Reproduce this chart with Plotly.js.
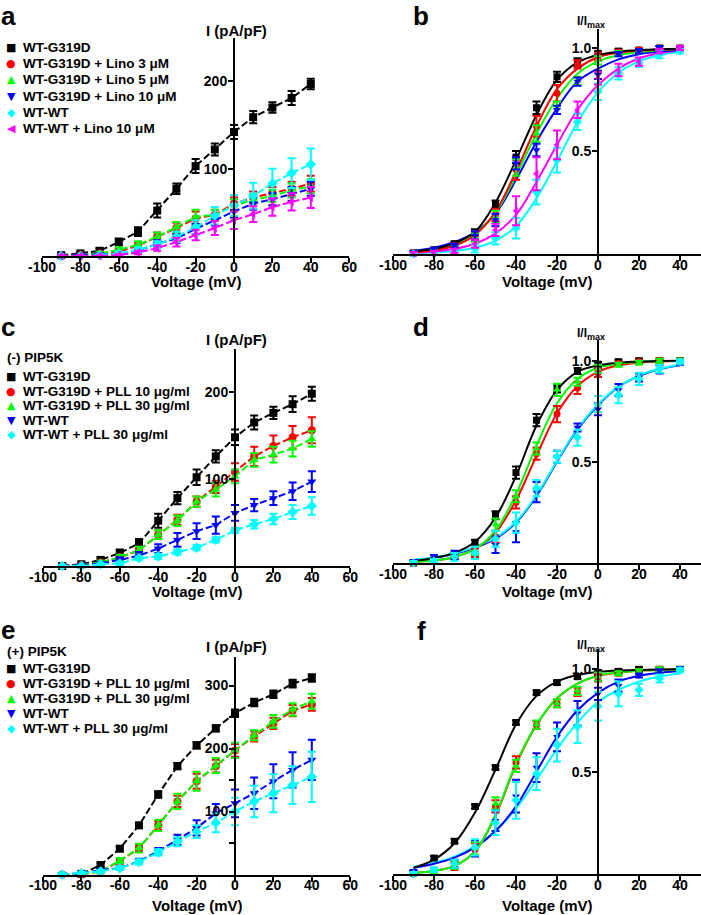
<!DOCTYPE html>
<html>
<head>
<meta charset="utf-8">
<script src="https://cdn.plot.ly/plotly-3.0.1.min.js"></script>
<style>html,body{margin:0;padding:0;background:#fff;}#chart{width:701px;height:915px;}</style>
</head>
<body>
<div id="chart"></div>
<script>
// ---------------- DATA ----------------
const V = [-90,-80,-70,-60,-50,-40,-30,-20,-10,0,10,20,30,40];
const fitV = [-90,-80,-70,-60,-50,-40,-30,-20,-10,0,10,20,30,40];
const xTicksIV = [-100,-80,-60,-40,-20,0,20,40,60];
const xTickTextIV = ['-100','-80','-60','-40','-20','0','20','40','60'];
const xTicksG = [-100,-80,-60,-40,-20,0,20,40];
const xTickTextG = ['-100','-80','-60','-40','-20','0','20','40'];
const yTicksAC = [100,200];
const yTickTextAC = ['100','200'];
const yTicksE = [100,200,300];
const yTickTextE = ['100','200','300'];
const yMinorE = [50,150,250];
const yTicksG = [0.5,1.0];
const yTickTextG = ['0.5','1.0'];

const legendA = ['WT-G319D','WT-G319D + Lino 3 \u03bcM','WT-G319D + Lino 5 \u03bcM','WT-G319D + Lino 10 \u03bcM','WT-WT','WT-WT + Lino 10 \u03bcM'];
const legendC = ['WT-G319D','WT-G319D + PLL 10 \u03bcg/ml','WT-G319D + PLL 30 \u03bcg/ml','WT-WT','WT-WT + PLL 30 \u03bcg/ml'];
const legendE = ['WT-G319D','WT-G319D + PLL 10 \u03bcg/ml','WT-G319D + PLL 30 \u03bcg/ml','WT-WT','WT-WT + PLL 30 \u03bcg/ml'];
const headerC = '(-) PIP5K';
const headerE = '(+) PIP5K';

// Panel a (I, pA/pF)
const aBlack = [1,3,6,16,28,52,77,103,122,142,159,170,181,197];
const aBlackErr = [2,2,3,4,5,8,6,8,7,8,7,6,8,6];
const aRed = [0,1,3,5,12,22,32,43,47,60,67,72,77,83];
const aRedErr = [1,1,2,3,4,5,6,8,6,7,7,7,8,9];
const aGreen = [0,1,3,7,13,22,33,45,47,58,64,69,75,80];
const aGreenErr = [1,1,2,3,4,5,6,8,6,7,7,7,8,8];
const aBlue = [0,1,2,2,6,14,20,31,41,51,60,65,71,77];
const aBlueErr = [1,1,1,2,3,4,5,6,6,7,7,7,8,8];
const aCyan = [0,0,1,3,7,13,22,33,46,58,69,83,95,105];
const aCyanErr = [1,1,1,2,3,4,6,8,10,12,15,17,17,18];
const aMagenta = [0,0,0,1,4,9,16,24,32,41,48,56,62,67];
const aMagentaErr = [1,1,1,1,2,3,5,6,8,10,9,10,10,12];

// Panel b (I/Imax)
const bBlack = [0.005,0.02,0.05,0.105,0.24,0.47,0.71,0.86,0.93,0.974,0.985,0.99,1.0,1.0];
const bBlackErr = [0.01,0.01,0.01,0.015,0.02,0.03,0.03,0.025,0.02,0.01,0.01,0.01,0.01,0.01];
const bRed = [0.005,0.015,0.04,0.09,0.19,0.41,0.62,0.78,0.92,0.958,0.98,0.99,1.0,1.0];
const bRedErr = [0.01,0.01,0.01,0.02,0.03,0.05,0.05,0.04,0.02,0.02,0.01,0.01,0.01,0.01];
const bGreen = [0.005,0.015,0.035,0.08,0.18,0.42,0.585,0.71,0.84,0.94,0.975,0.985,1.0,1.0];
const bGreenErr = [0.01,0.01,0.01,0.02,0.03,0.04,0.04,0.03,0.02,0.02,0.01,0.01,0.01,0.01];
const bBlue = [0.005,0.02,0.04,0.09,0.165,0.44,0.505,0.70,0.837,0.87,0.97,0.985,1.0,1.0];
const bBlueErr = [0.01,0.01,0.01,0.02,0.03,0.03,0.03,0.02,0.02,0.02,0.01,0.01,0.01,0.01];
const bCyan = [0.0,0.0,0.01,0.027,0.076,0.125,0.30,0.456,0.642,0.788,0.877,0.929,0.97,0.985];
const bCyanErr = [0.01,0.01,0.01,0.02,0.03,0.05,0.06,0.06,0.04,0.04,0.03,0.02,0.02,0.01];
const bMagenta = [0.0,0.005,0.015,0.05,0.117,0.21,0.39,0.53,0.70,0.853,0.893,0.934,0.985,1.0];
const bMagentaErr = [0.01,0.01,0.01,0.02,0.03,0.07,0.08,0.07,0.04,0.03,0.03,0.02,0.01,0.01];
const bBlackFit = [0.012,0.025,0.052,0.108,0.25,0.456,0.675,0.845,0.93,0.966,0.982,0.99,0.994,0.996];
const bRedFit = [0.008,0.018,0.04,0.092,0.205,0.40,0.62,0.80,0.90,0.955,0.977,0.987,0.992,0.995];
const bGreenFit = [0.01,0.022,0.048,0.098,0.2,0.38,0.585,0.755,0.875,0.935,0.965,0.98,0.99,0.995];
const bBlueFit = [0.015,0.03,0.058,0.105,0.195,0.36,0.545,0.707,0.837,0.90,0.945,0.97,0.982,0.99];
const bCyanFit = [0.004,0.008,0.015,0.03,0.065,0.135,0.27,0.45,0.64,0.785,0.88,0.935,0.965,0.982];
const bMagentaFit = [0.006,0.012,0.025,0.05,0.1,0.19,0.35,0.53,0.70,0.82,0.90,0.95,0.975,0.988];

// Panel c (I, pA/pF), (-) PIP5K
const cBlack = [0,2,7,15,26,52,78,102,126,148,165,176,186,198];
const cBlackErr = [2,2,3,4,5,8,7,9,7,9,8,7,9,8];
const cRed = [0,1,4,10,18,36,53,74,91,108,126,138,148,156];
const cRedErr = [1,1,2,3,4,5,6,6,7,10,11,12,13,15];
const cGreen = [0,1,4,10,18,36,52,74,88,103,122,128,135,146];
const cGreenErr = [1,1,2,3,4,5,6,6,8,8,8,9,9,9];
const cBlue = [0,1,3,7,12,20,30,40,47,61,70,78,86,97];
const cBlueErr = [1,1,2,3,4,5,8,9,10,9,7,8,10,12];
const cCyan = [0,0,2,3,9,11,16,21,30,41,48,54,62,69];
const cCyanErr = [1,1,1,2,2,3,3,3,3,3,5,6,8,10];

// Panel d (I/Imax), (-) PIP5K
const dBlack = [0.0,0.01,0.04,0.10,0.236,0.447,0.706,0.863,0.949,0.983,0.995,1.0,1.0,1.0];
const dBlackErr = [0.01,0.01,0.01,0.015,0.02,0.03,0.03,0.02,0.015,0.01,0.01,0.01,0.01,0.01];
const dRed = [0.0,0.01,0.03,0.05,0.13,0.30,0.54,0.736,0.865,0.94,0.985,0.995,1.0,1.0];
const dRedErr = [0.01,0.01,0.01,0.02,0.03,0.03,0.03,0.04,0.03,0.02,0.01,0.01,0.01,0.01];
const dGreen = [0.0,0.01,0.03,0.06,0.19,0.33,0.566,0.856,0.896,0.96,0.98,0.99,1.0,1.0];
const dGreenErr = [0.01,0.01,0.01,0.02,0.03,0.03,0.03,0.03,0.02,0.02,0.01,0.01,0.01,0.01];
const dBlue = [0.005,0.03,0.04,0.05,0.09,0.153,0.35,0.525,0.67,0.76,0.855,0.917,0.957,0.99];
const dBlueErr = [0.01,0.01,0.02,0.03,0.04,0.05,0.05,0.03,0.02,0.03,0.03,0.02,0.02,0.01];
const dCyan = [0.0,0.01,0.03,0.05,0.12,0.20,0.37,0.525,0.62,0.785,0.83,0.91,0.96,0.995];
const dCyanErr = [0.01,0.01,0.02,0.03,0.04,0.05,0.04,0.03,0.04,0.04,0.04,0.03,0.02,0.01];
const dBlackFit = [0.01,0.025,0.05,0.105,0.225,0.43,0.68,0.855,0.945,0.977,0.99,0.996,0.998,1.0];
const dRedFit = [0.005,0.012,0.03,0.07,0.15,0.31,0.53,0.74,0.875,0.945,0.977,0.99,0.996,0.998];
const dGreenFit = [0.005,0.012,0.03,0.07,0.16,0.34,0.58,0.79,0.91,0.965,0.985,0.994,0.998,0.999];
const dBlueFit = [0.015,0.025,0.045,0.075,0.12,0.2,0.33,0.5,0.66,0.78,0.87,0.925,0.958,0.977];
const dCyanFit = [0.016,0.027,0.048,0.08,0.125,0.205,0.335,0.505,0.665,0.785,0.872,0.927,0.96,0.98];

// Panel e (I, pA/pF), (+) PIP5K
const eBlack = [-6,1,15,41,78,127,172,205,232,256,273,286,303,312];
const eBlackErr = [3,2,3,4,4,5,5,5,5,6,6,6,6,6];
const eRed = [0,0,5,21,42,78,116,148,172,197,219,240,260,270];
const eRedErr = [2,2,3,4,5,7,9,12,10,10,8,9,9,10];
const eGreen = [0,0,5,22,42,78,116,148,173,197,221,243,262,275];
const eGreenErr = [2,2,3,4,7,9,12,15,12,12,8,10,10,12];
const eBlue = [0,2,7,10,21,37,55,74,97,113,129,148,166,182];
const eBlueErr = [2,2,2,3,4,5,8,12,15,22,25,27,28,32];
const eCyan = [0,2,5,10,20,35,52,68,82,100,116,129,142,155];
const eCyanErr = [2,2,2,3,4,5,7,10,15,22,25,30,30,40];

// Panel f (I/Imax), (+) PIP5K
const fBlack = [0.005,0.078,0.16,0.33,0.52,0.74,0.886,0.935,0.964,0.985,0.99,1.0,1.0,1.0];
const fBlackErr = [0.01,0.01,0.01,0.01,0.01,0.01,0.01,0.01,0.01,0.01,0.01,0.01,0.01,0.01];
const fRed = [0.0,0.01,0.04,0.12,0.33,0.545,0.728,0.834,0.89,0.96,0.98,0.99,1.0,1.0];
const fRedErr = [0.01,0.01,0.02,0.03,0.03,0.03,0.02,0.02,0.02,0.02,0.01,0.01,0.01,0.01];
const fGreen = [0.0,0.01,0.045,0.125,0.345,0.528,0.73,0.834,0.895,0.964,0.98,0.99,1.0,1.0];
const fGreenErr = [0.01,0.01,0.02,0.03,0.03,0.03,0.02,0.02,0.02,0.02,0.01,0.01,0.01,0.01];
const fBlue = [0.01,0.02,0.05,0.125,0.26,0.38,0.52,0.67,0.785,0.88,0.92,0.97,0.99,1.0];
const fBlueErr = [0.01,0.01,0.02,0.04,0.05,0.08,0.07,0.07,0.06,0.03,0.03,0.01,0.01,0.01];
const fCyan = [0.0,0.02,0.05,0.13,0.25,0.36,0.49,0.63,0.72,0.82,0.88,0.90,0.955,0.995];
const fCyanErr = [0.01,0.01,0.02,0.04,0.06,0.09,0.08,0.08,0.08,0.07,0.06,0.03,0.02,0.01];
const fBlackFit = [0.03,0.07,0.15,0.3,0.51,0.73,0.87,0.94,0.972,0.987,0.994,0.997,0.999,1.0];
const fRedFit = [0.005,0.015,0.04,0.11,0.285,0.535,0.728,0.858,0.93,0.968,0.984,0.993,0.997,0.999];
const fGreenFit = [0.005,0.015,0.04,0.11,0.29,0.54,0.73,0.86,0.93,0.97,0.984,0.993,0.997,0.999];
const fBlueFit = [0.03,0.05,0.08,0.13,0.21,0.33,0.5,0.67,0.8,0.885,0.94,0.968,0.983,0.99];
const fCyanFit = [0.035,0.055,0.085,0.135,0.21,0.32,0.46,0.61,0.74,0.84,0.9,0.94,0.965,0.98];

// ---------------- STYLE / LAYOUT ----------------
const W = 701, H = 915;
const FONT = 'Liberation Sans, Arial, Helvetica, sans-serif';
const C = {black:'#000000', red:'#ff0000', green:'#00ff00', blue:'#0000ff', cyan:'#00ffff', magenta:'#ff00ff'};
const SYM = {black:'square', red:'circle', green:'triangle-up', blue:'triangle-down', cyan:'diamond', magenta:'triangle-left'};
const GLYPH = {black:'\u25A0', red:'\u25CF', green:'\u25B2', blue:'\u25BC', cyan:'\u25C6', magenta:'\u25C0'};

const traces = [];
function ivTrace(n, y, err, key) {
  traces.push({x: V, y: y, type:'scatter', mode:'lines+markers', xaxis:'x'+n, yaxis:'y'+n,
    showlegend:false, cliponaxis:false, hoverinfo:'x+y',
    line:{color:C[key], width:2, dash:'7px,3px'},
    marker:{color:C[key], symbol:SYM[key], size:8},
    error_y:{type:'data', array:err, visible:true, color:C[key], thickness:2, width:4}});
}
function gTrace(n, y, err, key) {
  traces.push({x: V, y: y, type:'scatter', mode:'markers', xaxis:'x'+n, yaxis:'y'+n,
    showlegend:false, cliponaxis:false,
    marker:{color:C[key], symbol:SYM[key], size:7},
    error_y:{type:'data', array:err, visible:true, color:C[key], thickness:2, width:4}});
}
function fitTrace(n, y, key) {
  traces.push({x: fitV, y: y, type:'scatter', mode:'lines', xaxis:'x'+n, yaxis:'y'+n,
    showlegend:false, hoverinfo:'skip', line:{color:C[key], width:2, shape:'spline', smoothing:1}});
}

// Panel a
ivTrace('', aBlack, aBlackErr, 'black');
ivTrace('', aRed, aRedErr, 'red');
ivTrace('', aGreen, aGreenErr, 'green');
ivTrace('', aBlue, aBlueErr, 'blue');
ivTrace('', aCyan, aCyanErr, 'cyan');
ivTrace('', aMagenta, aMagentaErr, 'magenta');
// Panel b
fitTrace('2', bCyanFit, 'cyan');
fitTrace('2', bMagentaFit, 'magenta');
fitTrace('2', bBlueFit, 'blue');
fitTrace('2', bGreenFit, 'green');
fitTrace('2', bRedFit, 'red');
fitTrace('2', bBlackFit, 'black');
gTrace('2', bBlack, bBlackErr, 'black');
gTrace('2', bRed, bRedErr, 'red');
gTrace('2', bGreen, bGreenErr, 'green');
gTrace('2', bBlue, bBlueErr, 'blue');
gTrace('2', bCyan, bCyanErr, 'cyan');
gTrace('2', bMagenta, bMagentaErr, 'magenta');
// Panel c
ivTrace('3', cBlack, cBlackErr, 'black');
ivTrace('3', cRed, cRedErr, 'red');
ivTrace('3', cGreen, cGreenErr, 'green');
ivTrace('3', cBlue, cBlueErr, 'blue');
ivTrace('3', cCyan, cCyanErr, 'cyan');
// Panel d
fitTrace('4', dBlueFit, 'blue');
fitTrace('4', dCyanFit, 'cyan');
fitTrace('4', dRedFit, 'red');
fitTrace('4', dGreenFit, 'green');
fitTrace('4', dBlackFit, 'black');
gTrace('4', dBlack, dBlackErr, 'black');
gTrace('4', dRed, dRedErr, 'red');
gTrace('4', dGreen, dGreenErr, 'green');
gTrace('4', dBlue, dBlueErr, 'blue');
gTrace('4', dCyan, dCyanErr, 'cyan');
// Panel e
ivTrace('5', eBlack, eBlackErr, 'black');
ivTrace('5', eRed, eRedErr, 'red');
ivTrace('5', eGreen, eGreenErr, 'green');
ivTrace('5', eBlue, eBlueErr, 'blue');
ivTrace('5', eCyan, eCyanErr, 'cyan');
// Panel f
fitTrace('6', fCyanFit, 'cyan');
fitTrace('6', fBlueFit, 'blue');
fitTrace('6', fRedFit, 'red');
fitTrace('6', fGreenFit, 'green');
fitTrace('6', fBlackFit, 'black');
gTrace('6', fBlack, fBlackErr, 'black');
gTrace('6', fRed, fRedErr, 'red');
gTrace('6', fGreen, fGreenErr, 'green');
gTrace('6', fBlue, fBlueErr, 'blue');
gTrace('6', fCyan, fCyanErr, 'cyan');

const layout = {
  width: W, height: H, margin:{l:0, r:0, t:0, b:0},
  paper_bgcolor:'#ffffff', plot_bgcolor:'rgba(0,0,0,0)',
  showlegend:false, font:{family:FONT, color:'#000'},
  annotations: []
};
const tickFont = {family:FONT, size:14, color:'#000', weight:'bold'};

function addPanel(i, g) {
  const sfx = i === 1 ? '' : String(i);
  const xd = [g.x0/W, g.x1/W];
  const yd = [1 - g.yBottom/H, 1 - g.yTop/H];
  const pos = xd[0] + (0 - g.xRange[0]) / (g.xRange[1] - g.xRange[0]) * (xd[1] - xd[0]);
  layout['xaxis' + sfx] = {domain: xd, range: g.xRange, anchor: 'y' + sfx,
    showline:true, linewidth:2, linecolor:'#000', ticks:'outside', ticklen:5, tickwidth:2, tickcolor:'#000',
    tickmode:'array', tickvals:g.xTicks, ticktext:g.xTickText, tickfont:tickFont, ticklabelstandoff:-8,
    showgrid:false, zeroline:false, fixedrange:true};
  const ya = {domain: yd, range: g.yRange, anchor:'free', position: pos,
    showline:true, linewidth:2, linecolor:'#000', ticks:'outside', ticklen:5, tickwidth:2, tickcolor:'#000',
    tickmode:'array', tickvals:g.yTicks, ticktext:g.yTickText, tickfont:tickFont, ticklabelstandoff:-2,
    showgrid:false, zeroline:false, fixedrange:true};
  if (g.yMinor) ya.minor = {tickmode:'array', tickvals:g.yMinor, ticks:'outside', ticklen:5, tickwidth:2, tickcolor:'#000', showgrid:false};
  layout['yaxis' + sfx] = ya;
}
addPanel(1, {x0:42, x1:349.2, xRange:[-100,60], xTicks:xTicksIV, xTickText:xTickTextIV,
  yBottom:256, yTop:256-250*0.873, yRange:[0,250], yTicks:yTicksAC, yTickText:yTickTextAC});
addPanel(2, {x0:393, x1:700.5, xRange:[-100,50], xTicks:xTicksG, xTickText:xTickTextG,
  yBottom:254, yTop:254-1.09*206, yRange:[0,1.09], yTicks:yTicksG, yTickText:yTickTextG});
addPanel(3, {x0:43, x1:350.2, xRange:[-100,60], xTicks:xTicksIV, xTickText:xTickTextIV,
  yBottom:566, yTop:566-250*0.87, yRange:[0,250], yTicks:yTicksAC, yTickText:yTickTextAC});
addPanel(4, {x0:393, x1:700.5, xRange:[-100,50], xTicks:xTicksG, xTickText:xTickTextG,
  yBottom:563, yTop:563-1.1*202.3, yRange:[0,1.1], yTicks:yTicksG, yTickText:yTickTextG});
addPanel(5, {x0:43, x1:350.2, xRange:[-100,60], xTicks:xTicksIV, xTickText:xTickTextIV,
  yBottom:874.5, yTop:874.5-345*0.63, yRange:[0,345], yTicks:yTicksE, yTickText:yTickTextE, yMinor:yMinorE});
addPanel(6, {x0:393, x1:700.5, xRange:[-100,50], xTicks:xTicksG, xTickText:xTickTextG,
  yBottom:874, yTop:874-1.1*204.7, yRange:[0,1.1], yTicks:yTicksG, yTickText:yTickTextG});

function ann(text, px, py, size, opts) {
  layout.annotations.push(Object.assign({text: text, x: px/W, y: 1 - py/H, xref:'paper', yref:'paper',
    xanchor:'center', yanchor:'middle', showarrow:false, borderpad:0,
    font:{family:FONT, size:size, color:'#000', weight:'bold'}}, opts || {}));
}
// panel letters
ann('a', 8, 0, 26, {yanchor:'top'}); ann('b', 421, 0, 26, {yanchor:'top'});
ann('c', 8, 311, 26, {yanchor:'top'}); ann('d', 421, 311, 26, {yanchor:'top'});
ann('e', 8, 614, 26, {yanchor:'top'}); ann('f', 421, 615, 26, {yanchor:'top'});
// axis titles
[31, 340, 646].forEach(function(yT){ ann('I (pA/pF)', 236, yT, 15); });
[21, 333, 645].forEach(function(yT){
  ann('I/I', 588, yT, 12, {xanchor:'right'});
  ann('max', 585.5, yT + 4, 9, {xanchor:'left'});
});
[[196,282],[547,282],[197,591],[547,591],[197,905],[547,905]].forEach(function(p){ ann('Voltage (mV)', p[0], p[1], 15); });

// legends
function legendRows(labels, keys, y0, dy) {
  labels.forEach(function(lbl, k){
    const y = y0 + k*dy;
    ann(GLYPH[keys[k]], 11, y, 11, {font:{family:'DejaVu Sans, '+FONT, size:11, color:C[keys[k]]}});
    ann(lbl, 22, y, 13.5, {xanchor:'left'});
  });
}
legendRows(legendA, ['black','red','green','blue','cyan','magenta'], 47.5, 16.2);
ann(headerC, 6, 357, 13.5, {xanchor:'left'});
legendRows(legendC, ['black','red','green','blue','cyan'], 376.5, 14.6);
ann(headerE, 6, 651.5, 13.5, {xanchor:'left'});
legendRows(legendE, ['black','red','green','blue','cyan'], 668, 15);

Plotly.newPlot('chart', traces, layout, {displayModeBar:false, staticPlot:true});
</script>
</body>
</html>
